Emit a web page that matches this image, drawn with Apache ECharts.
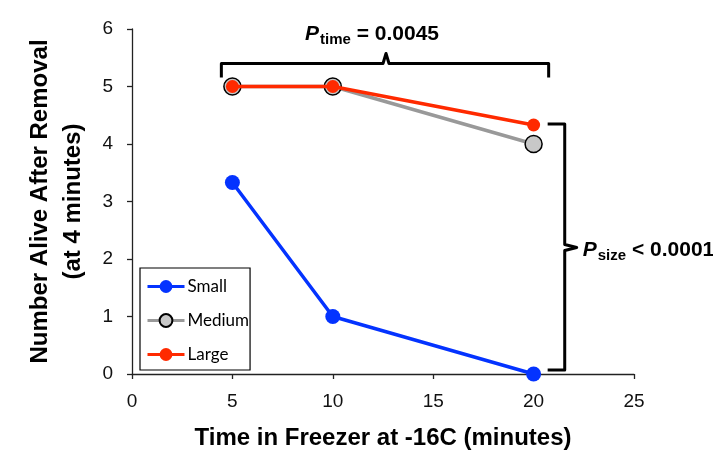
<!DOCTYPE html>
<html><head><meta charset="utf-8">
<script src="https://cdn.jsdelivr.net/npm/echarts@6/dist/echarts.min.js"></script>
<style>html,body{margin:0;padding:0;background:#fff}#c{width:713px;height:471px}</style>
</head><body><div id="c"></div>
<script>
const times = [5, 10, 20];
const smallVals = [3.33, 1, 0];
const mediumVals = [5, 5, 4];
const largeVals = [5, 5, 4.33];
const xTicks = [0, 5, 10, 15, 20, 25];
const yTicks = [0, 1, 2, 3, 4, 5, 6];
const pTime = '0.0045';
const pSize = '0.0001';

const pairs = v => times.map((t, i) => [t, v[i]]);
const chart = echarts.init(document.getElementById('c'));
const font = 'Liberation Sans';
chart.setOption({
  animation: false,
  grid: {left: 132, right: 79, top: 29, bottom: 97},
  xAxis: {
    type: 'value', min: xTicks[0], max: xTicks[xTicks.length-1], interval: 5,
    splitLine: {show: false},
    axisLine: {lineStyle: {color: '#222', width: 1.3}},
    axisTick: {show: true, length: 5, lineStyle: {color: '#222', width: 1.3}},
    axisLabel: {color: '#111', fontSize: 19, fontFamily: font, margin: 18},
    name: 'Time in Freezer at -16C (minutes)', nameLocation: 'middle', nameGap: 52,
    nameTextStyle: {color: '#000', fontSize: 24, fontWeight: 'bold', fontFamily: font}
  },
  yAxis: {
    type: 'value', min: yTicks[0], max: yTicks[yTicks.length-1], interval: 1,
    splitLine: {show: false},
    axisLine: {show: true, lineStyle: {color: '#222', width: 1.3}},
    axisTick: {show: true, length: 5, lineStyle: {color: '#222', width: 1.3}},
    axisLabel: {color: '#111', fontSize: 19, fontFamily: font, margin: 19},
    name: 'Number Alive After Removal\n(at 4 minutes)', nameLocation: 'middle', nameGap: 42,
    nameTextStyle: {color: '#000', fontSize: 24, fontWeight: 'bold', fontFamily: font, lineHeight: 33}
  },
  legend: {
    orient: 'vertical', left: 140, top: 268, data: ['Small', 'Medium', 'Large'],
    borderColor: '#000', borderWidth: 1.2, padding: [10, 1, 7, 6],
    itemWidth: 37, itemHeight: 16, itemGap: 17,
    lineStyle: {width: 3},
    textStyle: {fontFamily: 'Lato', fontSize: 17, color: '#000', padding: [0, 0, 0, -2]}
  },
  series: [
    {name: 'Medium', type: 'line', data: pairs(mediumVals), z: 2,
     symbol: 'circle', symbolSize: 17,
     lineStyle: {color: '#999999', width: 3.5},
     itemStyle: {color: '#c8c8c8', borderColor: '#000', borderWidth: 1.5}},
    {name: 'Large', type: 'line', data: pairs(largeVals), z: 3,
     symbol: 'circle', symbolSize: 13,
     lineStyle: {color: '#ff2a00', width: 3.5},
     itemStyle: {color: '#ff2a00'}},
    {name: 'Small', type: 'line', data: pairs(smallVals), z: 4,
     symbol: 'circle', symbolSize: 15,
     lineStyle: {color: '#0433ff', width: 3.5},
     itemStyle: {color: '#0433ff'}}
  ]
});

// annotation brackets (positions derived from the axes)
const px = (x, y) => chart.convertToPixel({gridIndex: 0}, [x, y]);
const L = px(4.45, 5.4), R = px(20.75, 5.4), Mid = px(12.65, 5.4);
const topY = L[1], drop = 14, peak = 10;
const topPts = [[L[0], topY + drop], [L[0], topY], [Mid[0] - 3, topY], [Mid[0], topY - peak],
                [Mid[0] + 3, topY], [R[0], topY], [R[0], topY + drop]];
const T = px(20.7, largeVals[2] + 0.02), B = px(20.7, smallVals[2] + 0.07), C = px(21.55, 2.2);
const bx = C[0], bT = T[1], bB = B[1], bM = C[1];
const rightPts = [[T[0], bT], [bx, bT], [bx, bM - 3], [bx + 12, bM], [bx, bM + 3], [bx, bB], [B[0], bB]];
const rich = {
  p: {fontFamily: font, fontSize: 21, fontWeight: 'bold', fontStyle: 'italic', fill: '#000'},
  s: {fontFamily: font, fontSize: 15, fontWeight: 'bold', fill: '#000', padding: [11, 0, 0, 1]},
  n: {fontFamily: font, fontSize: 21, fontWeight: 'bold', fill: '#000'}
};
chart.setOption({
  graphic: [
    {type: 'polyline', shape: {points: topPts}, style: {fill: null, stroke: '#000', lineWidth: 3, lineJoin: 'round'}, z: 10},
    {type: 'polyline', shape: {points: rightPts}, style: {fill: null, stroke: '#000', lineWidth: 3, lineJoin: 'round'}, z: 10},
    {type: 'text', x: Mid[0] - 14, y: 34, z: 10,
     style: {text: '{p|P}{s|time}{n| = ' + pTime + '}', align: 'center', verticalAlign: 'middle', rich: rich}},
    {type: 'text', x: bx + 18, y: bM + 3, z: 10,
     style: {text: '{p|P}{s|size}{n| < ' + pSize + '}', align: 'left', verticalAlign: 'middle', rich: rich}}
  ]
});
</script></body></html>
